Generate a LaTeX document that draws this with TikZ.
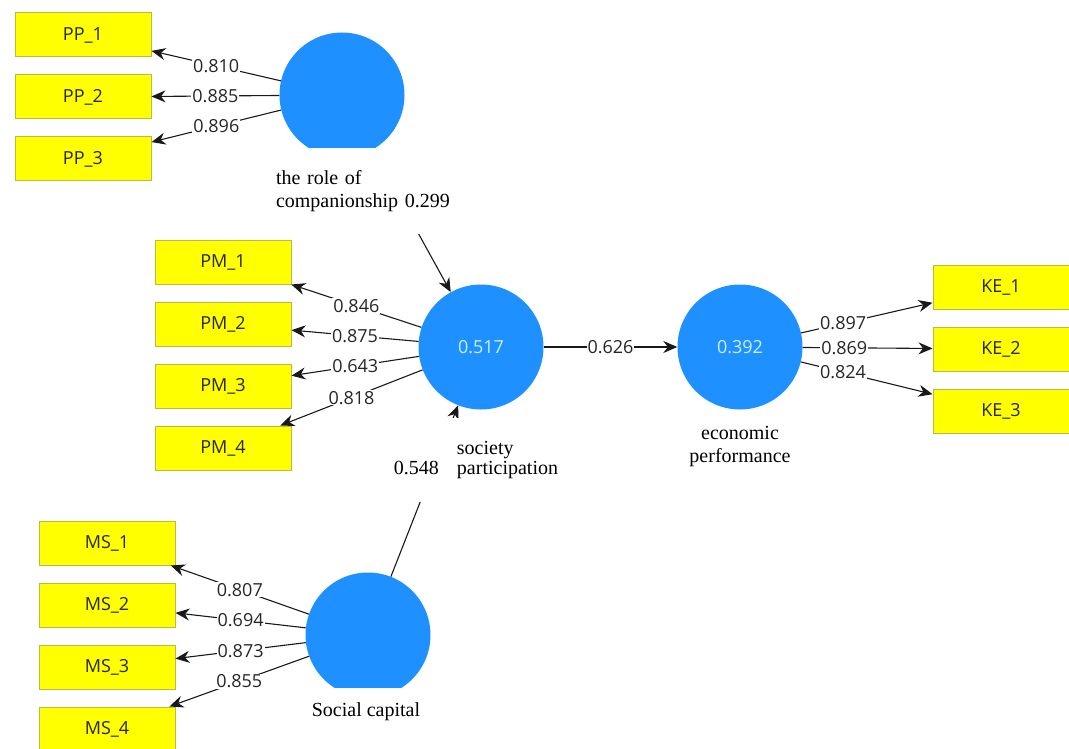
\documentclass[tikz,border=0pt]{standalone}
\usepackage{fontspec}
\setmainfont{Liberation Serif}
\newfontfamily\uifont{Open Sans}
\usetikzlibrary{arrows.meta}
\definecolor{lv}{RGB}{30,144,255}
\definecolor{mvfill}{RGB}{255,255,0}
\definecolor{mvdraw}{RGB}{185,185,70}
\definecolor{lvtext}{RGB}{205,240,255}
\definecolor{edgec}{RGB}{25,25,25}
\begin{document}
\begin{tikzpicture}[x=1pt,y=-1pt,
  ind/.style={draw=mvdraw, fill=mvfill, line width=1pt, minimum width=136pt, minimum height=44pt, inner sep=0pt, text=black!85, font=\uifont\fontsize{18}{20}\selectfont},
  lat/.style={circle, fill=lv, minimum size=125pt, inner sep=0pt, text=lvtext, font=\uifont\fontsize{18}{20}\selectfont},
  ld/.style={draw=edgec, line width=1.1pt, -{Stealth[length=14pt,width=12pt]}},
  coef/.style={fill=white, inner sep=1pt, text=black!85, font=\uifont\fontsize{18}{20}\selectfont},
  captext/.style={fill=white, inner sep=0pt, font=\fontsize{20}{23}\selectfont}
]
\useasboundingbox (0,0) rectangle (1069,749);
% indicators
\node[ind] (PP1) at (83,35) {PP\_1};
\node[ind] (PP2) at (83,97) {PP\_2};
\node[ind] (PP3) at (83,159) {PP\_3};
\node[ind] (PM1) at (223,262) {PM\_1};
\node[ind] (PM2) at (223,324) {PM\_2};
\node[ind] (PM3) at (223,386) {PM\_3};
\node[ind] (PM4) at (223,448) {PM\_4};
\node[ind] (KE1) at (1001,287) {KE\_1};
\node[ind] (KE2) at (1001,349) {KE\_2};
\node[ind] (KE3) at (1001,411) {KE\_3};
\node[ind] (MS1) at (107,543) {MS\_1};
\node[ind] (MS2) at (107,605) {MS\_2};
\node[ind] (MS3) at (107,667) {MS\_3};
\node[ind] (MS4) at (107,729) {MS\_4};
% latent variables
\node[lat] (PP) at (342,95) {};
\node[lat] (PM) at (481,347) {0.517};
\node[lat] (EP) at (740,347) {0.392};
\node[lat] (SC) at (368,635) {};
% structural paths
\draw[ld] (PP) -- (PM);
\draw[ld] (PM) -- node[coef]{0.626} (EP);
\draw[ld] (SC) -- (PM);
% loadings
\draw[ld] (PP) -- node[coef]{0.810} (PP1);
\draw[ld] (PP) -- node[coef]{0.885} (PP2);
\draw[ld] (PP) -- node[coef]{0.896} (PP3);
\draw[ld] (PM) -- node[coef]{0.846} (PM1);
\draw[ld] (PM) -- node[coef]{0.875} (PM2);
\draw[ld] (PM) -- node[coef]{0.643} (PM3);
\draw[ld] (PM) -- node[coef]{0.818} (PM4);
\draw[ld] (EP) -- node[coef,pos=0.32]{0.897} (KE1);
\draw[ld] (EP) -- node[coef,pos=0.32]{0.869} (KE2);
\draw[ld] (EP) -- node[coef,pos=0.32]{0.824} (KE3);
\draw[ld] (SC) -- node[coef]{0.807} (MS1);
\draw[ld] (SC) -- node[coef]{0.694} (MS2);
\draw[ld] (SC) -- node[coef]{0.873} (MS3);
\draw[ld] (SC) -- node[coef]{0.855} (MS4);
% captions
\node[captext, text width=180pt, align=left, minimum height=86pt, inner xsep=6pt] (PPcap) at (366,191)
  {the role of\\companionship 0.299};
\node[captext, minimum height=84pt, inner xsep=4pt] (PMcap) at (476,460)
  {\begin{tabular}{@{}l@{\hspace{18pt}}l@{}} & society\\[-3pt] 0.548 & participation\end{tabular}};
\node[captext, align=center] (EPcap) at (740,447) {economic\\performance};
\node[captext, minimum width=150pt, minimum height=48pt] (SCcap) at (366,712) {Social capital};
\end{tikzpicture}
\end{document}
